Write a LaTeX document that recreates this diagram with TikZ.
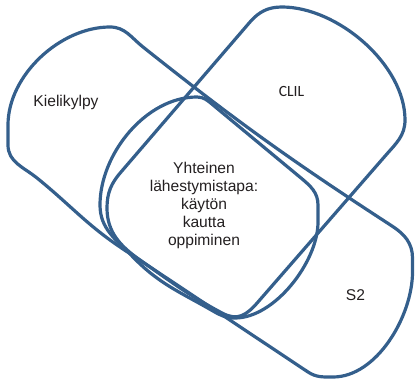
\documentclass[tikz,border=0pt]{standalone}
\usepackage{fontspec}
\setmainfont{Liberation Sans}
\newfontfamily\clilfont{Carlito}
\definecolor{shapeblue}{RGB}{52,95,140}
\definecolor{labelgray}{RGB}{35,31,32}
\tikzset{
  region/.style={draw=shapeblue, line width=3.2pt, line join=round},
  areatext/.style={text=labelgray, inner sep=0pt, font=\fontsize{15.6}{18.2}\selectfont},
}
\begin{document}
\begin{tikzpicture}[x=1pt, y=1pt]
\useasboundingbox (0,0) rectangle (415,381);

% long band: Kielikylpy (upper left) to S2 (lower right)
\draw[region] (143,334) to[out=-38.5,in=147] (392,155)
  to[out=-33,in=90] (412.5,123) -- (412.5,109)
  to[out=-90,in=0,looseness=0.85] (333,4)
  to[out=180,in=-33.5] (308,9) -- (123,132)
  to[out=146.5,in=-39] (37,203)
  to[out=141,in=-90] (8,236) -- (8,256)
  to[out=90,in=180,looseness=0.9] (110,354)
  to[out=0,in=141.5] (143,334) -- cycle;

% CLIL region (upper right reaching to the centre)
\draw[region] (121,209) -- (250,359)
  to[out=49,in=180] (282,374)
  to[out=0,in=90,looseness=0.85] (405,261)
  to[out=-90,in=49] (386,226) -- (258,79)
  to[out=-131,in=-28,looseness=1.2] (222,68)
  to[out=152,in=-35] (140,121)
  to[out=145,in=-90] (107,173)
  to[out=90,in=-131] (121,209) -- cycle;

% common central region
\draw[region] (197,284) to[out=0,in=140] (213,276) -- (301,203)
  to[out=-40,in=90] (318,176) -- (318,159)
  to[out=-90,in=0,looseness=0.8] (235,63)
  to[out=180,in=-30] (213,70)
  to[out=150,in=-46] (133,124)
  to[out=134,in=-90] (100,176)
  to[out=90,in=180,looseness=0.9] (197,284) -- cycle;

\node[areatext, anchor=base] (kielikylpy) at (66,274) {Kielikylpy};
\node[areatext, anchor=base, font=\clilfont\fontsize{15.6}{18.2}\selectfont] (clil) at (291.5,284.5) {CLIL};
\node[areatext, anchor=base] (s2) at (355.5,81) {S2};
\node[areatext, align=center] (yhteinen) at (204,175.6)
  {Yhteinen\\lähestymistapa:\\käytön\\kautta\\oppiminen};
\end{tikzpicture}
\end{document}
